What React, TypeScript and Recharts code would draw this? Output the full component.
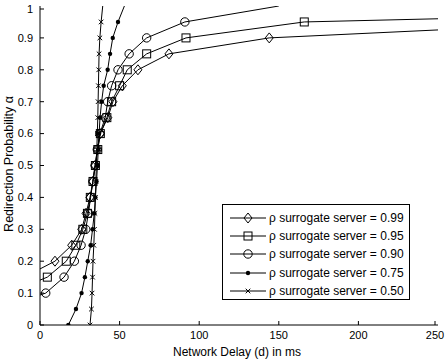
import React from 'react';
import { LineChart, Line, XAxis, YAxis, Legend } from 'recharts';

// alpha levels (y) and network delays in ms (x)
const alpha099 = [0.15, 0.2, 0.25, 0.3, 0.35, 0.4, 0.45, 0.5, 0.55, 0.6, 0.65, 0.7, 0.75, 0.8, 0.85, 0.9, 0.95];
const delay099 = [-10, 9.4, 19.9, 26.2, 28.9, 31.4, 33.2, 34.6, 36.1, 37.8, 42.6, 45.8, 51.7, 61.5, 81, 144, 356];

const alpha095 = [0.1, 0.15, 0.2, 0.25, 0.3, 0.35, 0.4, 0.45, 0.5, 0.55, 0.6, 0.65, 0.7, 0.75, 0.8, 0.85, 0.9, 0.95, 1.0];
const delay095 = [-20, 4.6, 16.5, 22.5, 26.9, 29.8, 31.6, 33.3, 34.8, 36.3, 37.9, 42, 45, 50, 54.8, 67, 91.7, 166, 586];

const alpha090 = [0.05, 0.1, 0.15, 0.2, 0.25, 0.3, 0.35, 0.4, 0.45, 0.5, 0.55, 0.6, 0.65, 0.7, 0.75, 0.8, 0.85, 0.9, 0.95, 1.0];
const delay090 = [-26, 3.6, 15.1, 21.6, 25.8, 28.7, 30.4, 31.8, 33.2, 34.6, 36, 37.6, 41, 42.5, 45, 49, 56, 67, 91, 150];

const alpha075 = [0, 0.05, 0.1, 0.15, 0.2, 0.25, 0.3, 0.35, 0.4, 0.45, 0.5, 0.55, 0.6, 0.65, 0.7, 0.75, 0.8, 0.85, 0.9, 0.95, 1.0];
const delay075 = [17.8, 22.6, 26.1, 28.2, 30, 31.8, 33, 34.1, 34.8, 35.5, 36.1, 36.6, 37.1, 37.7, 38.7, 40, 42.5, 44, 45.7, 49, 53];

const alpha050 = [0, 0.05, 0.1, 0.15, 0.2, 0.25, 0.3, 0.35, 0.4, 0.45, 0.5, 0.55, 0.6, 0.65, 0.7, 0.75, 0.8, 0.85, 0.9, 0.95, 1.0];
const delay050 = [31.4, 32.3, 32.7, 33, 33.3, 33.8, 34.2, 34.5, 34.8, 35.1, 35.4, 35.7, 36, 36.3, 36.5, 36.7, 36.9, 37.1, 37.6, 38.4, 39.4];

const xTicks = [0, 50, 100, 150, 200, 250];
const yTicks = [0, 0.1, 0.2, 0.3, 0.4, 0.5, 0.6, 0.7, 0.8, 0.9, 1];

const FONT = '"Liberation Sans", Arial, sans-serif';

const zip = (xs: number[], ys: number[]) => xs.map((d, i) => ({ delay: d, alpha: ys[i] }));

type MarkerKind = 'diamond' | 'square' | 'circle' | 'dot' | 'x';

const series: { name: string; marker: MarkerKind; data: { delay: number; alpha: number }[] }[] = [
  { name: 'ρ surrogate server = 0.99', marker: 'diamond', data: zip(delay099, alpha099) },
  { name: 'ρ surrogate server = 0.95', marker: 'square', data: zip(delay095, alpha095) },
  { name: 'ρ surrogate server = 0.90', marker: 'circle', data: zip(delay090, alpha090) },
  { name: 'ρ surrogate server = 0.75', marker: 'dot', data: zip(delay075, alpha075) },
  { name: 'ρ surrogate server = 0.50', marker: 'x', data: zip(delay050, alpha050) },
];

function Marker({ kind, cx, cy }: { kind: MarkerKind; cx: number; cy: number }) {
  const s = { stroke: '#000', strokeWidth: 1, fill: 'none' };
  switch (kind) {
    case 'diamond':
      return <path d={`M${cx},${cy - 5}L${cx + 4},${cy}L${cx},${cy + 5}L${cx - 4},${cy}Z`} {...s} />;
    case 'square':
      return <rect x={cx - 4} y={cy - 4} width={8} height={8} {...s} />;
    case 'circle':
      return <circle cx={cx} cy={cy} r={4.2} {...s} />;
    case 'dot':
      return <circle cx={cx} cy={cy} r={2.2} fill="#000" />;
    default:
      return (
        <path d={`M${cx - 2.3},${cy - 2.3}L${cx + 2.3},${cy + 2.3}M${cx - 2.3},${cy + 2.3}L${cx + 2.3},${cy - 2.3}`} {...s} />
      );
  }
}

// markers only for points strictly inside the plotted box (the edge ones are clipped in the original)
const makeDot = (kind: MarkerKind) => (props: any) => {
  const { cx, cy, index, payload } = props;
  if (payload.delay < 0 || payload.delay > 250 || payload.alpha >= 1 || cx == null) return <g key={index} />;
  return <Marker key={index} kind={kind} cx={cx} cy={cy} />;
};

const BottomTick = ({ x, y, payload }: any) => (
  <g>
    <line x1={x} y1={y} x2={x} y2={y - 4} stroke="#000" />
    <text x={x} y={y + 14} textAnchor="middle" fontSize={11} fontFamily={FONT} fill="#000">
      {payload.value}
    </text>
  </g>
);

const LeftTick = ({ x, y, payload }: any) => (
  <g>
    <line x1={x} y1={y} x2={x + 4} y2={y} stroke="#000" />
    <text x={x - 7} y={y + 3.8} textAnchor="end" fontSize={11} fontFamily={FONT} fill="#000">
      {payload.value}
    </text>
  </g>
);

const TopTick = ({ x, y }: any) => <line x1={x} y1={y} x2={x} y2={y + 4} stroke="#000" />;
const RightTick = ({ x, y }: any) => <line x1={x} y1={y} x2={x - 4} y2={y} stroke="#000" />;

function LegendBox() {
  return (
    <div
      style={{
        border: '1px solid #000',
        background: '#fff',
        boxSizing: 'border-box',
        width: 188,
        height: 96,
        padding: '4px 0 0 6px',
        fontFamily: FONT,
        fontSize: 12,
        color: '#000',
      }}
    >
      {series.map((s) => (
        <div key={s.name} style={{ display: 'flex', alignItems: 'center', height: 18.2 }}>
          <svg width={40} height={12} style={{ flexShrink: 0 }}>
            <line x1={1} y1={6} x2={37} y2={6} stroke="#000" />
            <Marker kind={s.marker} cx={19} cy={6} />
          </svg>
          <span style={{ whiteSpace: 'nowrap' }}>{s.name}</span>
        </div>
      ))}
    </div>
  );
}

export default function App() {
  return (
    <div style={{ position: 'absolute', left: 0, top: 0, background: '#fff' }}>
      <LineChart width={447} height={361} margin={{ top: 6, right: 9, bottom: 0, left: 0 }}>
        <XAxis
          dataKey="delay"
          type="number"
          domain={[0, 250]}
          ticks={xTicks}
          allowDataOverflow
          height={36}
          tickSize={0}
          tickMargin={0}
          tick={<BottomTick />}
          axisLine={{ stroke: '#000' }}
          label={{
            content: () => (
              <text x={237} y={356} textAnchor="middle" fontSize={12} fontFamily={FONT} fill="#000">
                Network Delay (d) in ms
              </text>
            ),
          }}
        />
        <XAxis
          xAxisId="top"
          orientation="top"
          type="number"
          domain={[0, 250]}
          ticks={xTicks}
          allowDataOverflow
          height={0}
          tickSize={0}
          tickMargin={0}
          tick={<TopTick />}
          axisLine={{ stroke: '#000' }}
        />
        <YAxis
          dataKey="alpha"
          type="number"
          domain={[0, 1]}
          ticks={yTicks}
          allowDataOverflow
          width={40}
          tickSize={0}
          tickMargin={0}
          tick={<LeftTick />}
          axisLine={{ stroke: '#000' }}
          label={{
            content: () => (
              <text
                x={12.5}
                y={164}
                textAnchor="middle"
                fontSize={12.5}
                fontFamily={FONT}
                fill="#000"
                transform="rotate(-90 12.5 164)"
              >
                Redirection Probability α
              </text>
            ),
          }}
        />
        <YAxis
          yAxisId="right"
          orientation="right"
          type="number"
          domain={[0, 1]}
          ticks={yTicks}
          allowDataOverflow
          width={0}
          tickSize={0}
          tickMargin={0}
          tick={<RightTick />}
          axisLine={{ stroke: '#000' }}
        />
        {series.map((s) => (
          <Line
            key={s.name}
            data={s.data}
            dataKey="alpha"
            name={s.name}
            stroke="#000"
            strokeWidth={1}
            dot={makeDot(s.marker)}
            activeDot={false}
            isAnimationActive={false}
          />
        ))}
        <Legend
          layout="horizontal"
          verticalAlign="middle"
          align="center"
          content={() => <LegendBox />}
          wrapperStyle={{ left: 222, top: 204, width: 188, height: 96 }}
        />
      </LineChart>
    </div>
  );
}
